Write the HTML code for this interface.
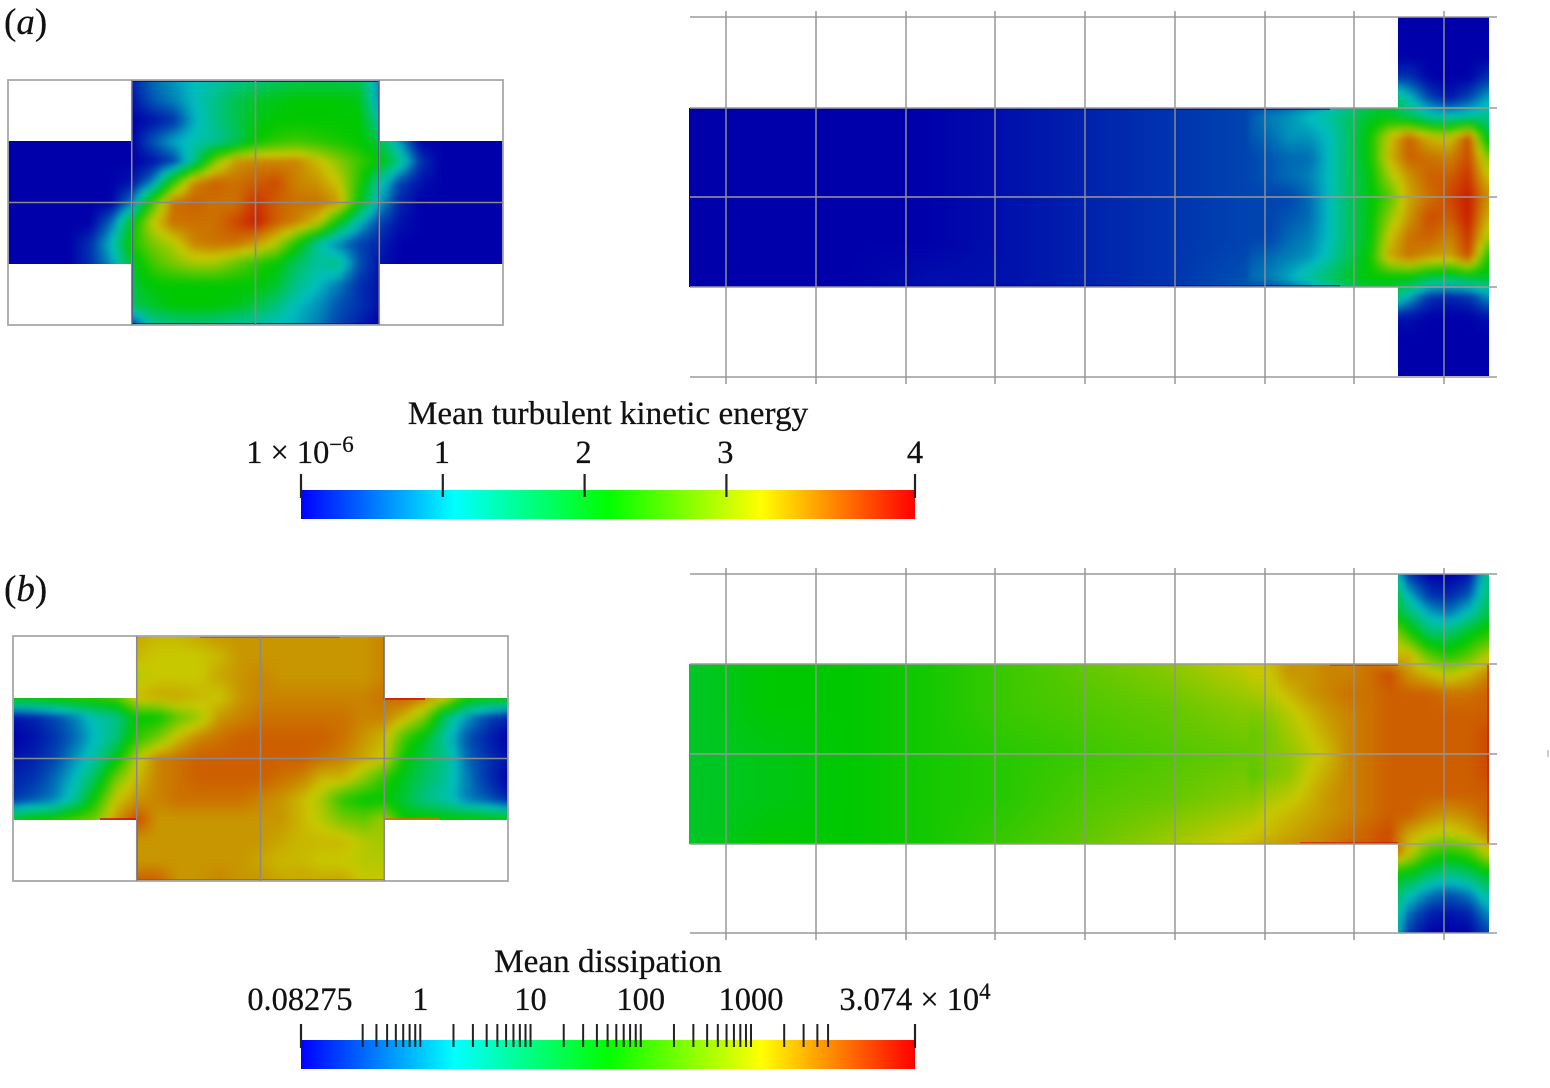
<!DOCTYPE html>
<html lang="en">
<head>
<meta charset="utf-8">
<title>Mean turbulent kinetic energy and mean dissipation</title>
<style>
html,body{margin:0;padding:0;background:#fff;}
svg{display:block;}
text{font-family:"Liberation Serif",serif;fill:#111;stroke:#111;stroke-width:.25;}
</style>
</head>
<body>
<svg id="figure" xmlns="http://www.w3.org/2000/svg" width="1550" height="1088" viewBox="0 0 1550 1088">
  <defs>
    <filter id="soft" filterUnits="userSpaceOnUse" x="0" y="0" width="1550" height="1088" color-interpolation-filters="sRGB">
      <feGaussianBlur stdDeviation="2.8"/>
    </filter>
    <linearGradient id="jet" x1="0" x2="1" y1="0" y2="0">
      <stop offset="0" stop-color="#0000ff"/>
      <stop offset="0.25" stop-color="#00ffff"/>
      <stop offset="0.5" stop-color="#00ff00"/>
      <stop offset="0.75" stop-color="#ffff00"/>
      <stop offset="1" stop-color="#ff0000"/>
    </linearGradient>
    <clipPath id="clip-a-left"><path d="M8 141H132V80H379V141H503V264H379V325H132V264H8Z"/></clipPath>
    <clipPath id="clip-a-right"><path d="M689 108H1398V17H1489V376H1398V287H689Z"/></clipPath>
    <clipPath id="clip-b-left"><path d="M13 698H137V636H384V698H508V820H384V881H137V820H13Z"/></clipPath>
    <clipPath id="clip-b-right"><path d="M689 664H1398V574H1489V933H1398V844H689Z"/></clipPath>
  </defs>

  <g id="field-a-left" clip-path="url(#clip-a-left)"><g id="cells-a-left" filter="url(#soft)"></g></g>
  <g id="field-a-right" clip-path="url(#clip-a-right)"><g id="cells-a-right" filter="url(#soft)"></g></g>
  <g id="field-b-left" clip-path="url(#clip-b-left)"><g id="cells-b-left" filter="url(#soft)"></g></g>
  <g id="field-b-right" clip-path="url(#clip-b-right)"><g id="cells-b-right" filter="url(#soft)"></g></g>

  <g fill="none" stroke-width="2">
    <path d="M132 81H379V324H132Z" stroke="#0000a0" stroke-opacity=".75"/>
    <path d="M689 109H1330" stroke="#0000a0" stroke-opacity=".7"/>
    <path d="M689 286H1340" stroke="#0000a0" stroke-opacity=".7"/>
    <path d="M100 819H137V881" stroke="#d01800" stroke-opacity=".8"/>
    <path d="M384 636V699H425" stroke="#d01800" stroke-opacity=".8"/>
    <path d="M384 819H440" stroke="#d87000" stroke-opacity=".8"/>
    <path d="M200 637H340" stroke="#d01800" stroke-opacity=".5"/>
    <path d="M137 880H384" stroke="#d03000" stroke-opacity=".5"/>
    <path d="M1300 843H1398" stroke="#d01800" stroke-opacity=".7"/>
    <path d="M1330 665H1398" stroke="#d01800" stroke-opacity=".5"/>
    <path d="M1488 664V844" stroke="#d01800" stroke-opacity=".6"/>
  </g>

  <g id="grids" fill="none"></g>
  <g id="colorbars"></g>

  <text x="4" y="34" font-size="37">(<tspan font-style="italic">a</tspan>)</text>
  <text x="4" y="601" font-size="37">(<tspan font-style="italic">b</tspan>)</text>
  <text x="608" y="424" font-size="33.2" text-anchor="middle">Mean turbulent kinetic energy</text>
  <text x="608" y="972" font-size="33.2" text-anchor="middle">Mean dissipation</text>
  <rect x="1547" y="750" width="2" height="7" fill="#cfcfcf"/>
</svg>

<script>
// Field values on the colour scale 0 (blue) .. 10 (cyan) .. 20 (green) .. 30 (yellow) .. 40 (red)
const tkeSquareField = [
[0,0,0,0,0,0,2,6,8,10,11,13,14,15,16,16,16,16,8,0,0,0,0,0,0],
[0,0,0,0,0,0,1,5,7,10,13,16,18,19,20,20,20,19,8,0,0,0,0,0,0],
[0,0,0,0,0,0,0,1,3,9,13,16,19,20,20,20,20,20,12,0,0,0,0,0,0],
[0,0,0,0,0,0,0,5,9,11,12,15,20,22,23,22,21,20,17,8,0,0,0,0,0],
[0,0,0,0,0,0,0,1,4,13,26,33,34,34,34,31,27,23,20,13,3,0,0,0,0],
[0,0,0,0,0,0,1,7,22,34,36,35,36,37,34,33,30,22,12,4,1,0,0,0,0],
[0,0,0,0,0,0,7,23,35,36,35,35,38,36,35,35,33,20,9,2,0,0,0,0,0],
[0,0,0,0,0,6,19,30,35,35,35,37,39,36,34,30,19,10,4,1,0,0,0,0,0],
[0,0,0,0,3,10,21,26,29,34,35,35,33,29,21,12,7,4,2,0,0,0,0,0,0],
[0,0,0,0,3,8,18,23,26,28,28,25,22,20,15,12,13,5,1,0,0,0,0,0,0],
[0,0,0,0,0,0,17,20,20,20,20,20,20,18,13,10,7,3,1,0,0,0,0,0,0],
[0,0,0,0,0,0,16,18,20,20,20,19,17,14,10,8,5,3,1,0,0,0,0,0,0],
[0,0,0,0,0,0,3,12,13,14,13,12,11,10,9,7,4,2,0,0,0,0,0,0,0]
];
const tkeChannelField = [
[0,0,0,0,1,2,3,4],
[0,0,0,0,1,2,3,4],
[0,0,0,0,1,2,3,4],
[0,0,0,0,1,2,3,4],
[0,0,0,1,1,2,3,5]
];
const tkeJunctionField = [
[0,0,0,0,0,0,0,0,0,0,0,0,0],
[0,0,0,0,0,0,0,0,0,0,0,0,0],
[0,0,0,0,0,0,0,0,0,0,0,0,0],
[0,0,0,0,0,0,0,3,3,0,0,0,3],
[3,3,4,5,7,10,15,16,10,4,1,4,9],
[5,7,8,10,12,15,18,19,16,12,11,12,13],
[5,6,8,8,10,15,20,30,36,31,30,37,16],
[4,5,6,6,10,15,20,31,36,35,34,37,26],
[4,5,6,7,10,15,19,28,33,36,36,38,30],
[4,4,4,6,10,15,19,24,32,35,37,39,33],
[4,4,5,6,10,15,19,27,33,37,36,39,31],
[4,4,6,7,10,15,19,30,35,36,34,38,28],
[5,6,7,8,11,16,20,32,35,33,32,37,20],
[6,7,9,12,15,18,20,20,20,17,16,18,18],
[3,3,4,5,8,12,15,16,9,3,2,3,8],
[0,0,0,0,0,0,0,1,1,0,0,0,1],
[0,0,0,0,0,0,0,0,0,0,0,0,0],
[0,0,0,0,0,0,0,0,0,0,0,0,0],
[0,0,0,0,0,0,0,0,0,0,0,0,0]
];
const dissipationSquareField = [
[32,32,32,32,32,32,32,31,31,32,33,33,33,33,33,33,33,33,34,34,34,34,34,34,34],
[31,31,31,31,31,31,31,30,30,30,31,33,33,33,33,33,33,33,34,34,34,34,34,34,34],
[29,29,29,29,29,29,29,30,30,30,32,33,34,33,33,33,33,33,34,34,34,34,34,34,34],
[20,20,21,22,22,24,31,32,32,31,30,33,34,34,34,34,34,34,35,36,34,30,21,20,20],
[1,2,4,7,11,13,20,20,25,28,33,34,35,35,35,35,35,34,34,31,26,14,8,4,2],
[0,1,3,6,10,14,22,26,31,34,35,36,36,36,36,36,35,33,31,23,18,11,5,2,0],
[1,2,4,8,12,19,29,34,35,36,36,36,36,36,36,35,34,32,30,20,16,13,6,3,1],
[2,3,6,10,16,26,31,34,35,36,36,36,36,35,34,31,31,27,22,18,15,12,7,3,0],
[3,5,7,12,21,30,33,34,35,35,35,35,34,33,31,28,22,20,20,17,13,11,7,5,2],
[18,20,21,24,26,33,37,33,33,33,33,33,33,33,31,29,26,25,28,20,21,20,20,20,19],
[33,33,33,33,33,33,33,33,33,33,33,33,33,32,31,31,31,29,28,28,28,28,28,28,28],
[33,33,33,33,33,33,33,33,33,33,33,33,32,31,31,30,30,29,29,29,29,29,29,29,29],
[36,36,36,36,36,36,36,36,33,33,34,33,33,32,32,32,32,30,30,30,30,30,30,30,30]
];
const dissipationChannelField = [
[18,20,20,21,23,25,27,30],
[18,20,20,21,23,24,25,27],
[18,19,20,21,22,23,24,25],
[18,19,20,21,22,24,25,27],
[18,20,20,21,23,25,28,31]
];
const dissipationJunctionField = [
[0,0,0,0,0,0,0,16,3,0,0,1,14],
[0,0,0,0,0,0,0,20,9,3,2,5,15],
[0,0,0,0,0,0,0,20,15,9,7,11,17],
[0,0,0,0,0,0,0,30,22,15,15,19,22],
[31,31,33,33,34,34,35,31,31,24,21,24,29],
[30,30,33,33,34,34,35,37,33,31,29,31,34],
[28,29,31,33,34,35,35,36,36,36,35,35,36],
[26,27,29,31,33,34,35,36,36,36,36,36,36],
[25,26,28,30,32,34,35,36,36,36,36,36,37],
[25,26,27,29,31,34,35,36,36,36,36,36,37],
[24,26,27,30,32,34,35,36,36,36,36,36,37],
[26,28,29,31,33,34,35,36,36,36,36,36,36],
[28,30,31,32,33,34,35,36,36,34,33,34,36],
[30,31,32,33,34,35,36,37,32,30,29,31,34],
[32,33,34,34,34,36,36,37,30,23,21,23,30],
[0,0,0,0,0,0,0,20,19,15,13,15,19],
[0,0,0,0,0,0,0,18,11,7,5,7,13],
[0,0,0,0,0,0,0,15,6,2,1,2,8],
[0,0,0,0,0,0,0,16,3,0,0,0,4]
];

// Colour bar axes
const tkeTickValues = [0, 1, 2, 3, 4.33];
const tkeMaxValue = 4.33;
const tkeMiddleLabels = ['1', '2', '3'];
const dissipationMinValue = 0.08275;
const dissipationMaxValue = 30740;
const dissipationTickValues = [0.3,0.4,0.5,0.6,0.7,0.8,0.9,1,2,3,4,5,6,7,8,9,10,20,30,40,50,60,70,80,90,100,200,300,400,500,600,700,800,900,1000,2000,3000,4000,5000];
const dissipationLabelValues = [1, 10, 100, 1000];
const dissipationLabels = ['1', '10', '100', '1000'];

// Mesh block line positions
const channelGridColumns = [726,816,906,995,1085,1175,1265,1354,1444];
const tkeGridRows = [17,108,197,287,377];
const dissipationGridRows = [574,664,754,844,933];

const SVGNS = 'http://www.w3.org/2000/svg';
const CELL = 6;
const fieldStops = [[0,0,0,170],[5,0,85,178],[10,0,190,190],[15,0,195,100],[20,0,200,0],[30,200,200,0],[33,200,150,0],[36,205,95,0],[38,205,50,0],[40,200,5,0]];

function fieldColor(v) {
  const t = Math.max(0, Math.min(40, v));
  for (let i = 1; i < fieldStops.length; i++) {
    const a = fieldStops[i - 1], b = fieldStops[i];
    if (t <= b[0]) {
      const f = (t - a[0]) / (b[0] - a[0]);
      return 'rgb(' + Math.round(a[1] + (b[1] - a[1]) * f) + ',' + Math.round(a[2] + (b[2] - a[2]) * f) + ',' + Math.round(a[3] + (b[3] - a[3]) * f) + ')';
    }
  }
  return 'rgb(200,5,0)';
}
function sample(field, gx, gy) {
  const rows = field.length, cols = field[0].length;
  const x = Math.max(0, Math.min(cols - 1, gx)), y = Math.max(0, Math.min(rows - 1, gy));
  const i = Math.min(cols - 2, Math.floor(x)), j = Math.min(rows - 2, Math.floor(y));
  const fx = x - i, fy = y - j;
  return (field[j][i] * (1 - fx) + field[j][i + 1] * fx) * (1 - fy) + (field[j + 1][i] * (1 - fx) + field[j + 1][i + 1] * fx) * fy;
}
function drawField(groupId, field, originX, originY, stepX, stepY, xa, xb, ya, yb) {
  const group = document.getElementById(groupId);
  for (let y = ya; y < yb; y += CELL) {
    for (let x = xa; x < xb; x += CELL) {
      const v = sample(field, (x + CELL / 2 - originX) / stepX, (y + CELL / 2 - originY) / stepY);
      const r = document.createElementNS(SVGNS, 'rect');
      r.setAttribute('x', x);
      r.setAttribute('y', y);
      r.setAttribute('width', CELL + 0.5);
      r.setAttribute('height', CELL + 0.5);
      r.setAttribute('fill', fieldColor(v));
      
      
      group.appendChild(r);
    }
  }
}
drawField('cells-a-left', tkeSquareField, 8, 80, 20.625, 20.417, -4, 515, 68, 337);
drawField('cells-a-right', tkeChannelField, 689, 108, 80, 45, 677, 1249, 96, 300);
drawField('cells-a-right', tkeJunctionField, 1249, 17, 20, 20, 1249, 1501, 5, 389);
drawField('cells-b-left', dissipationSquareField, 13, 636, 20.625, 20.417, 1, 520, 624, 893);
drawField('cells-b-right', dissipationChannelField, 689, 664, 80, 45, 677, 1249, 652, 856);
drawField('cells-b-right', dissipationJunctionField, 1249, 574, 20, 20, 1249, 1501, 562, 945);

function addLine(parent, name, x1, y1, x2, y2, color, width) {
  const l = document.createElementNS(SVGNS, 'line');
  l.setAttribute('x1', x1);
  l.setAttribute('y1', y1);
  l.setAttribute('x2', x2);
  l.setAttribute('y2', y2);
  l.setAttribute('stroke', color);
  l.setAttribute('stroke-width', width);
  
  
  parent.appendChild(l);
  return l;
}
function addFrame(parent, name, left, top, width, height) {
  const r = document.createElementNS(SVGNS, 'rect');
  r.setAttribute('x', left);
  r.setAttribute('y', top);
  r.setAttribute('width', width);
  r.setAttribute('height', height);
  r.setAttribute('stroke', '#a8a8a8');
  r.setAttribute('stroke-width', '1.8');
  
  
  parent.appendChild(r);
  const third = 123.75;
  addLine(parent, 'block-line', left + third, top, left + third, top + height, '#8a8a8a', 1.6);
  addLine(parent, 'block-line', left + width / 2, top, left + width / 2, top + height, '#8a8a8a', 1.6);
  addLine(parent, 'block-line', left + width - third, top, left + width - third, top + height, '#8a8a8a', 1.6);
  addLine(parent, 'block-line', left, top + height / 2, left + width, top + height / 2, '#8a8a8a', 1.6);
}
function addChannelGrid(parent, rows, prefix) {
  const top = rows[0], bottom = rows[rows.length - 1];
  rows.forEach(function (y) {
    addLine(parent, prefix + '-grid-row', 690, y, 1497, y, '#9a9a9a', 1.4);
  });
  channelGridColumns.forEach(function (x) {
    addLine(parent, prefix + '-grid-column', x, top - 6, x, bottom + 7, '#929292', 1.4);
  });
}
const grids = document.getElementById('grids');
addFrame(grids, 'tke-square-frame', 8, 80, 495, 245);
addFrame(grids, 'dissipation-square-frame', 13, 636, 495, 245);
addChannelGrid(grids, tkeGridRows, 'tke');
addChannelGrid(grids, dissipationGridRows, 'dissipation');

const BAR_LEFT = 301, BAR_RIGHT = 915;
function tkeAxis(v) {
  return BAR_LEFT + (BAR_RIGHT - BAR_LEFT) * v / tkeMaxValue;
}
function dissipationAxis(v) {
  const lo = Math.log10(dissipationMinValue), hi = Math.log10(dissipationMaxValue);
  return BAR_LEFT + (BAR_RIGHT - BAR_LEFT) * (Math.log10(v) - lo) / (hi - lo);
}
function addBar(parent, name, top) {
  const r = document.createElementNS(SVGNS, 'rect');
  r.setAttribute('x', BAR_LEFT);
  r.setAttribute('y', top);
  r.setAttribute('width', BAR_RIGHT - BAR_LEFT);
  r.setAttribute('height', 29);
  r.setAttribute('fill', 'url(#jet)');
  
  
  parent.appendChild(r);
}
function addLabel(parent, name, x, y, content) {
  const t = document.createElementNS(SVGNS, 'text');
  t.setAttribute('x', x);
  t.setAttribute('y', y);
  t.setAttribute('font-size', '32.4');
  t.setAttribute('text-anchor', 'middle');
  
  
  t.textContent = content;
  parent.appendChild(t);
  return t;
}
function addPower(textEl, power) {
  const s = document.createElementNS(SVGNS, 'tspan');
  s.setAttribute('dy', '-11');
  s.setAttribute('font-size', '23');
  
  
  s.textContent = power;
  textEl.appendChild(s);
}
const bars = document.getElementById('colorbars');

addBar(bars, 'tke-colorbar', 490);
tkeTickValues.forEach(function (v, i) {
  const edge = i === 0 || i === tkeTickValues.length - 1;
  addLine(bars, 'tke-colorbar-tick', tkeAxis(v), 474, tkeAxis(v), edge ? 498 : 497, '#222', 2.2);
});
tkeMiddleLabels.forEach(function (label, i) {
  addLabel(bars, 'tke-tick-label', tkeAxis(i + 1) - 1, 463, label);
});
const tkeMinLabel = addLabel(bars, 'tke-tick-label-min', 300, 463, '1 × 10');
addPower(tkeMinLabel, '−6');
addLabel(bars, 'tke-tick-label-max', 915, 463, '4');

addBar(bars, 'dissipation-colorbar', 1040);
addLine(bars, 'dissipation-colorbar-tick-min', dissipationAxis(dissipationMinValue), 1024, dissipationAxis(dissipationMinValue), 1048, '#222', 2.2);
addLine(bars, 'dissipation-colorbar-tick-max', dissipationAxis(dissipationMaxValue), 1024, dissipationAxis(dissipationMaxValue), 1048, '#222', 2.2);
dissipationTickValues.forEach(function (v) {
  addLine(bars, 'dissipation-colorbar-tick', dissipationAxis(v), 1024, dissipationAxis(v), 1047, '#222', 2);
});
dissipationLabelValues.forEach(function (v, i) {
  addLabel(bars, 'dissipation-tick-label', dissipationAxis(v), 1010, dissipationLabels[i]);
});
addLabel(bars, 'dissipation-tick-label-min', 300, 1010, '0.08275');
const dissipationMaxLabel = addLabel(bars, 'dissipation-tick-label-max', 915, 1010, '3.074 × 10');
addPower(dissipationMaxLabel, '4');
</script>
</body>
</html>
